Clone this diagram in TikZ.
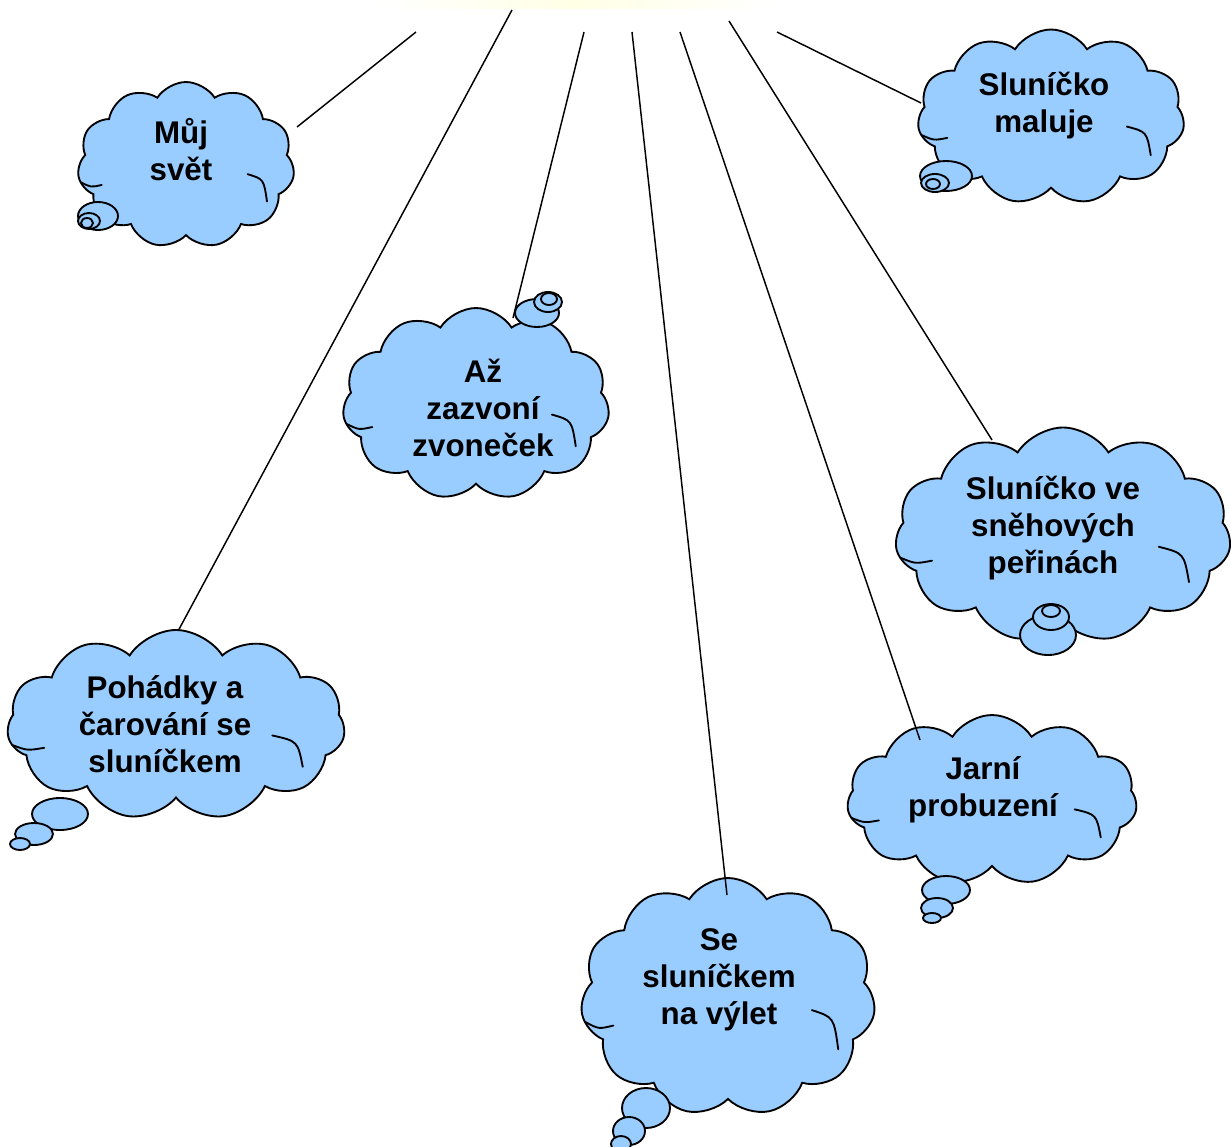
\documentclass[tikz,border=0pt]{standalone}
\usepackage{fontspec}
\setmainfont{Liberation Sans}
\usetikzlibrary{shapes.symbols}

\definecolor{mrakmodra}{RGB}{153,204,255}
\tikzset{every picture/.style={line width=0.75pt}}
\tikzset{
	mrak/.style 2 args={cloud, cloud puffs=11, cloud puff arc=115, cloud ignores aspect, draw, fill=mrakmodra, line width=1.4pt, minimum width=#1*0.75pt, minimum height=#2*0.75pt, inner sep=0pt},
	bublina/.style={draw, fill=mrakmodra, line width=1.4pt},
	oblouk/.style={line width=1.4pt, line cap=round},
	napis/.style={align=center, inner sep=0pt, font=\bfseries\fontsize{23.5}{27.75}\selectfont},
	paprsek/.style={line width=1.1pt}
}
% vnitrni obloucky mraku: stred, polovina sirky, polovina vysky
\newcommand{\vnitrek}[3]{%
	\begin{scope}[shift={#1}, xscale=#2, yscale=#3]
		\draw [oblouk] (0.57,0.11) .. controls (0.72,0.17) .. (0.75,0.44);
		\draw [oblouk] (-0.97,0.21) .. controls (-0.88,0.27) .. (-0.78,0.24);
	\end{scope}}

\begin{document}
\begin{tikzpicture}[x=0.75pt,y=0.75pt,yscale=-1,xscale=1]
	\useasboundingbox (0,0) rectangle (1231,1146);

	%slunce nahore
	\shade [left color=white, right color=white, middle color=yellow!10] (370,0) rectangle (780,8);

	\coordinate (z1) at (416,32);   \coordinate (k1) at (297,127);
	\coordinate (z2) at (512,10);   \coordinate (k2) at (177,633);
	\coordinate (z3) at (584,32);   \coordinate (k3) at (513,318);
	\coordinate (z4) at (632,32);   \coordinate (k4) at (727,895);
	\coordinate (z5) at (680,32);   \coordinate (k5) at (920,740);
	\coordinate (z6) at (729,21);   \coordinate (k6) at (992,440);
	\coordinate (z7) at (777,32);   \coordinate (k7) at (921,103);
	\foreach \i in {1,2,3,6,7}
		\draw [paprsek] (z\i) -- (k\i);

	\node [mrak={217}{166}] (muj) at (186,165) {};
	\node [mrak={267}{192}] (zvonecek) at (476,404) {};
	\node [mrak={267}{175}] (maluje) at (1051,117) {};
	\node [mrak={336}{215}] (periny) at (1063,535) {};
	\node [mrak={338}{190}] (pohadky) at (176,725) {};
	\node [mrak={295}{238}] (vylet) at (728,997) {};
	\node [mrak={290}{170}] (jaro) at (992,800) {};

	\vnitrek{(186,165)}{108}{83}
	\vnitrek{(476,404)}{133}{96}
	\vnitrek{(1051,117)}{133}{87}
	\vnitrek{(1063,535)}{168}{107}
	\vnitrek{(176,725)}{169}{95}
	\vnitrek{(728,997)}{147}{119}
	\vnitrek{(992,800)}{145}{85}

	% paprsky pres mraky
	\foreach \i in {4,5}
		\draw [paprsek] (z\i) -- (k\i);

	\draw [bublina] (98,216) ellipse (20 and 14);
	\draw [bublina] (89,221) ellipse (11 and 8);
	\draw [bublina] (87,223) ellipse (6 and 5);
	\draw [bublina] (537,313) ellipse (22 and 14);
	\draw [bublina] (548,302) ellipse (14 and 10);
	\draw [bublina] (549,299) ellipse (8 and 6);
	\draw [bublina] (946,176) ellipse (26 and 15);
	\draw [bublina] (935,183) ellipse (14 and 9);
	\draw [bublina] (933,184) ellipse (7 and 5);
	\draw [bublina] (1048,635) ellipse (28 and 20);
	\draw [bublina] (1051,617) ellipse (18 and 13);
	\draw [bublina] (1051,611) ellipse (9 and 6);
	\draw [bublina] (60,814) ellipse (28 and 16);
	\draw [bublina] (34,834) ellipse (19 and 11);
	\draw [bublina] (20,844) ellipse (10 and 6);
	\draw [bublina] (646,1108) ellipse (24 and 20);
	\draw [bublina] (629,1131) ellipse (16 and 14);
	\draw [bublina] (621,1144) ellipse (10 and 8);
	\draw [bublina] (946,890) ellipse (24 and 14);
	\draw [bublina] (937,908) ellipse (16 and 10);
	\draw [bublina] (932,918) ellipse (9 and 5);

	\node [napis] (t1) at (181,150) {Můj\\svět};
	\node [napis] (t2) at (483,408) {Až\\zazvoní\\zvoneček};
	\node [napis] (t3) at (1044,106) {Sluníčko\\maluje};
	\node [napis] (t4) at (1053,528) {Sluníčko ve\\sněhových\\peřinách};
	\node [napis] (t5) at (165,724) {Pohádky a\\čarování se\\sluníčkem};
	\node [napis] (t6) at (719,980) {Se\\sluníčkem\\na výlet};
	\node [napis] (t7) at (983,790) {Jarní\\probuzení};
\end{tikzpicture}
\end{document}
